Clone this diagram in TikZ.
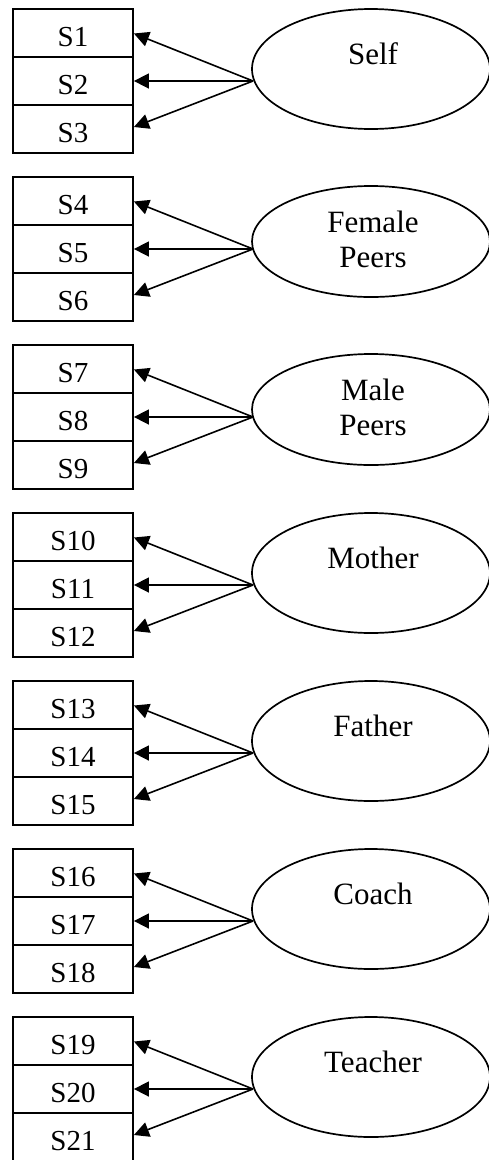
\documentclass[tikz,border=0pt]{standalone}
\usepackage{fontspec}
\setmainfont{Liberation Serif}
\usetikzlibrary{arrows.meta,shapes.geometric}
\begin{document}
\begin{tikzpicture}[x=1pt,y=-1pt,
  row/.style={draw, line width=1.8pt, minimum width=120pt, minimum height=48pt, inner sep=0pt,
    text height=27pt, text depth=0pt, font=\fontsize{29}{33}\selectfont},
  latent/.style={draw, ellipse, line width=1.7pt, minimum width=238pt, inner sep=0pt},
  lbl/.style={anchor=base, inner sep=0pt, font=\fontsize{31}{35}\selectfont},
  load/.style={line width=1.6pt, -{Triangle[length=15pt,width=15pt]}}]
\useasboundingbox (0,0) rectangle (489,1160);
\foreach \la/\lb/\two [count=\k from 0] in {Self/{}/0, Female/Peers/1, Male/Peers/1, Mother/{}/0, Father/{}/0, Coach/{}/0, Teacher/{}/0}{
  \pgfmathsetmacro\gt{9+168*\k}
  \pgfmathtruncatemacro\na{3*\k+1}
  \pgfmathtruncatemacro\nb{3*\k+2}
  \pgfmathtruncatemacro\nc{3*\k+3}
  \node[row] (s\na) at (73,\gt+24) {S\na};
  \node[row] (s\nb) at (73,\gt+72) {S\nb};
  \node[row] (s\nc) at (73,\gt+120) {S\nc};
  \pgfmathsetmacro\eh{120-9*\two}
  \pgfmathsetmacro\ey{\gt+60+4.5*\two}
  \node[latent, minimum height=\eh pt] (e\k) at (371,\ey) {};
  \coordinate (c\k) at (253,\gt+72);
  \node[lbl] (ta\k) at (373,\gt+55) {\la};
  \ifnum\two=1 \node[lbl] (tb\k) at (373,\gt+90) {\lb};\fi
  \draw[load] (c\k) -- ([yshift=-0.5pt]s\na.east);
  \draw[load] (c\k) -- (s\nb.east);
  \draw[load] (c\k) -- ([yshift=2pt]s\nc.east);
}
\end{tikzpicture}
\end{document}
